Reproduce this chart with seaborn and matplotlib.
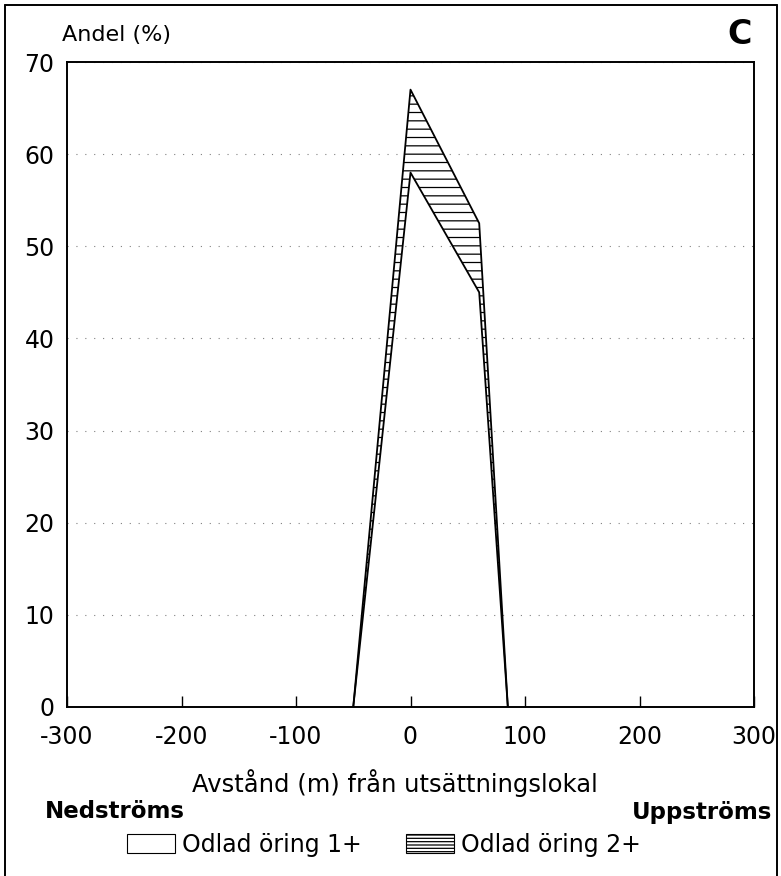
import pandas as pd
import seaborn as sns
import matplotlib.pyplot as plt
from matplotlib.patches import Patch
from matplotlib.lines import Line2D

# avstånd (m) och andel (%) för de två grupperna
avstand = [-50, 0, 60, 85]
andel_1 = [0, 58, 45, 0]     # Odlad öring 1+
andel_2 = [0, 67, 52.5, 0]   # Odlad öring 2+
xticks = [-300, -200, -100, 0, 100, 200, 300]
yticks = [0, 10, 20, 30, 40, 50, 60, 70]

df = pd.DataFrame({'Avstand': avstand * 2,
                   'Andel': andel_1 + andel_2,
                   'Grupp': ['1+'] * 4 + ['2+'] * 4})

sns.set_style('white')
plt.rcParams['font.family'] = ['DejaVu Sans']
plt.rcParams['hatch.linewidth'] = 0.9
plt.rcParams['axes.unicode_minus'] = False
plt.rcParams['text.color'] = 'black'
plt.rcParams['axes.labelcolor'] = 'black'
plt.rcParams['xtick.color'] = 'black'
plt.rcParams['ytick.color'] = 'black'

W, H = 781, 876
fig = plt.figure(figsize=(W / 100, H / 100), dpi=100)
ax = fig.add_axes([67 / W, 1 - 707 / H, (754 - 67) / W, (707 - 62) / H])

# skuggat område mellan 1+ och 2+
ax.fill_between(avstand, andel_1, andel_2, facecolor='white', edgecolor='black',
                hatch='--', linewidth=0, zorder=2)
sns.lineplot(data=df, x='Avstand', y='Andel', units='Grupp', estimator=None,
             color='black', linewidth=1.3, sort=False, ax=ax, zorder=3)

ax.set_xlim(-300, 300)
ax.set_ylim(0, 70)
ax.set_xticks(xticks)
ax.set_yticks(yticks)
ax.tick_params(axis='x', bottom=True, direction='in', length=8, width=1.0, pad=13,
               labelsize=17, colors='black')
ax.tick_params(axis='y', left=False, length=0, pad=9, labelsize=17, colors='black')
ax.yaxis.grid(True, linestyle=(0, (1, 7)), color='0.5', linewidth=0.8)
ax.set_axisbelow(True)
for s in ax.spines.values():
    s.set_color('black')
    s.set_linewidth(1.4)

ax.set_ylabel('')
ax.set_xlabel('Avstånd (m) från utsättningslokal', fontsize=17.5, va='center', color='black')
ax.xaxis.set_label_coords((395 - 67) / (754 - 67), -(783 - 707) / (707 - 62))

fig.text(62 / W, 1 - 35 / H, 'Andel (%)', fontsize=16, ha='left', va='center')
fig.text(752 / W, 1 - 35 / H, 'C', fontsize=24, fontweight='bold', ha='right', va='center')
fig.text(45 / W, 1 - 812 / H, 'Nedströms', fontsize=16.5, fontweight='bold', ha='left', va='center')
fig.text(772 / W, 1 - 812 / H, 'Uppströms', fontsize=16.5, fontweight='bold', ha='right', va='center')

handles = [Patch(facecolor='white', edgecolor='black', linewidth=0.8, label='Odlad öring 1+'),
           Patch(facecolor='white', edgecolor='black', linewidth=0.8, hatch='-----', label='Odlad öring 2+')]
fig.legend(handles=handles, loc='center', bbox_to_anchor=(384 / W, 1 - 845 / H), ncol=2,
           frameon=False, fontsize=17, handlelength=2.03, handleheight=0.85,
           handletextpad=0.3, columnspacing=1.9)

# ram runt figuren (ingen nederkant)
for xs, ys in [((5, 5), (876, 5)), ((5, 777), (5, 5)), ((777, 777), (5, 876))]:
    fig.add_artist(Line2D([x / W for x in xs], [1 - y / H for y in ys],
                          color='black', linewidth=1.4))

fig.savefig('out.png', dpi=100)
